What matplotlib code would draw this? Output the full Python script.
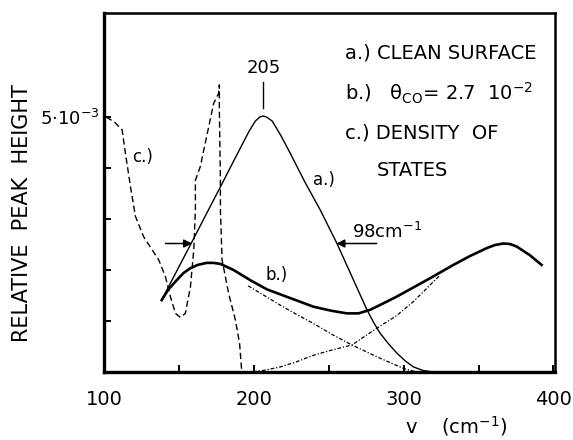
import numpy as np
import matplotlib
matplotlib.use("Agg")
import matplotlib.pyplot as plt

plt.rcParams['font.family'] = ['DejaVu Sans']
plt.rcParams['mathtext.fontset'] = 'dejavusans'

# ---- data (x in cm^-1, y in units of 1e-3) ----
# a.) clean surface
a_x = [138.5, 148.0, 158.5, 168.5, 177.7, 188.5, 197.0, 201.0, 204.0, 206.3,
       208.5, 212.3, 218.0, 224.3, 234.0, 244.3, 255.5, 265.5, 275.5, 280.0,
       284.3, 290.0, 295.5, 301.0, 306.5, 313.0, 319.9]
a_y = [1.41, 1.95, 2.54, 3.11, 3.63, 4.25, 4.73, 4.92, 5.00, 5.02,
       5.00, 4.92, 4.64, 4.29, 3.73, 3.18, 2.52, 1.87, 1.22, 0.97,
       0.76, 0.55, 0.37, 0.22, 0.10, 0.03, 0.0]

# b.) theta_CO = 2.7e-2
b_x = [138.5, 143.0, 148.5, 153.0, 157.3, 162.5, 168.5, 173.0, 177.7, 186.5,
       197.7, 208.8, 224.3, 239.9, 252.0, 262.1, 269.9, 277.7, 286.0, 295.5,
       306.0, 317.7, 333.2, 344.0, 355.5, 361.0, 366.5, 371.0, 375.5, 384.3,
       392.1]
b_y = [1.41, 1.62, 1.80, 1.94, 2.03, 2.10, 2.14, 2.14, 2.12, 2.00,
       1.80, 1.62, 1.45, 1.28, 1.20, 1.15, 1.15, 1.22, 1.34, 1.48,
       1.65, 1.84, 2.10, 2.27, 2.43, 2.49, 2.52, 2.51, 2.46, 2.29,
       2.10]

# c.) density of states
c_x = [101.5, 107.0, 112.1, 114.3, 117.7, 121.0, 126.5, 136.5, 141.0, 144.3,
       147.7, 151.0, 154.3, 157.7, 159.9, 161.0, 161.0, 164.3, 173.2, 176.5,
       177.0, 177.0, 177.7, 177.7, 178.8, 183.2, 187.7, 190.5, 191.7, 192.0]
c_y = [5.00, 4.90, 4.75, 4.29, 3.63, 3.05, 2.65, 2.20, 1.87, 1.48,
       1.15, 1.07, 1.15, 1.67, 2.39, 3.18, 3.76, 4.03, 5.27, 5.46,
       5.63, 5.14, 3.76, 3.18, 2.20, 1.54, 1.02, 0.56, 0.10, 0.0]

# decomposition of b.) into two components
d1_x = [196.2, 207.0, 217.7, 228.5, 239.9, 252.0, 265.5, 284.3, 299.9, 308.8]
d1_y = [1.69, 1.50, 1.31, 1.13, 0.95, 0.74, 0.53, 0.27, 0.07, 0.0]
d2_x = [199.7, 208.0, 217.7, 228.5, 239.9, 252.0, 265.5, 282.1, 295.0, 306.5, 324.3]
d2_y = [0.0, 0.04, 0.10, 0.20, 0.33, 0.43, 0.53, 0.86, 1.10, 1.38, 1.90]

fig = plt.figure(figsize=(5.73, 4.40), dpi=100)
ax = fig.add_axes([0.1815, 0.1545, 0.787, 0.816])

ax.plot(a_x, a_y, color='k', lw=1.0, solid_joinstyle='round')
ax.plot(b_x, b_y, color='k', lw=1.9, solid_joinstyle='round')
ax.plot(c_x, c_y, color='k', lw=1.0, ls=(0, (4.5, 2.5)))
ax.plot(d1_x, d1_y, color='k', lw=0.9, ls=(0, (3, 1.5, 1, 1.5)))
ax.plot(d2_x, d2_y, color='k', lw=0.9, ls=(0, (3, 1.5, 1, 1.5)))

# peak marker
ax.plot([206.3, 206.3], [5.18, 5.69], color='k', lw=1.0)
ax.text(206.3, 5.78, '205', ha='center', va='bottom', fontsize=13)

# FWHM arrows
arr = dict(arrowstyle='-|>', lw=1.1, color='k', mutation_scale=12, shrinkA=0, shrinkB=0)
ax.annotate('', xy=(158.8, 2.52), xytext=(141.0, 2.52), arrowprops=arr)
ax.annotate('', xy=(255.1, 2.52), xytext=(282.0, 2.52), arrowprops=arr)
ax.text(265.3, 2.54, '98cm$^{-1}$', ha='left', va='bottom', fontsize=13)

# curve labels
ax.text(118.5, 4.22, 'c.)', ha='left', va='center', fontsize=12)
ax.text(239.7, 3.76, 'a.)', ha='left', va='center', fontsize=12)
ax.text(207.5, 1.90, 'b.)', ha='left', va='center', fontsize=12)

# legend text
ax.text(261, 6.25, 'a.) CLEAN SURFACE', ha='left', va='center', fontsize=14)
ax.text(261, 5.47, 'b.)   θ$_{\\mathrm{CO}}$= 2.7  10$^{-2}$', ha='left', va='center', fontsize=14)
ax.text(261, 4.69, 'c.) DENSITY  OF', ha='left', va='center', fontsize=14)
ax.text(282, 3.96, 'STATES', ha='left', va='center', fontsize=14)

ax.set_xlim(100, 401)
ax.set_ylim(0, 7.04)
ax.set_xticks([100, 150, 200, 250, 300, 350, 400])
ax.set_xticklabels(['100', '', '200', '', '300', '', '400'])
ax.set_yticks([1, 2, 3, 4, 5])
ax.set_yticklabels(['', '', '', '', '5$\\cdot$10$^{-3}$'])
ax.tick_params(direction='in', length=5, width=1.4, labelsize=14)
ax.tick_params(axis='y', labelsize=13, pad=3)
ax.tick_params(axis='x', pad=13)
for side in ['left', 'bottom']:
    ax.spines[side].set_linewidth(2.4)
for side in ['top', 'right']:
    ax.spines[side].set_linewidth(1.8)

fig.text(0.038, 0.515, 'RELATIVE  PEAK  HEIGHT', rotation=90, ha='center', va='center', fontsize=15)
fig.text(0.797, 0.032, 'v    (cm$^{-1}$)', ha='center', va='center', fontsize=14)

fig.savefig('out.png', dpi=100)
